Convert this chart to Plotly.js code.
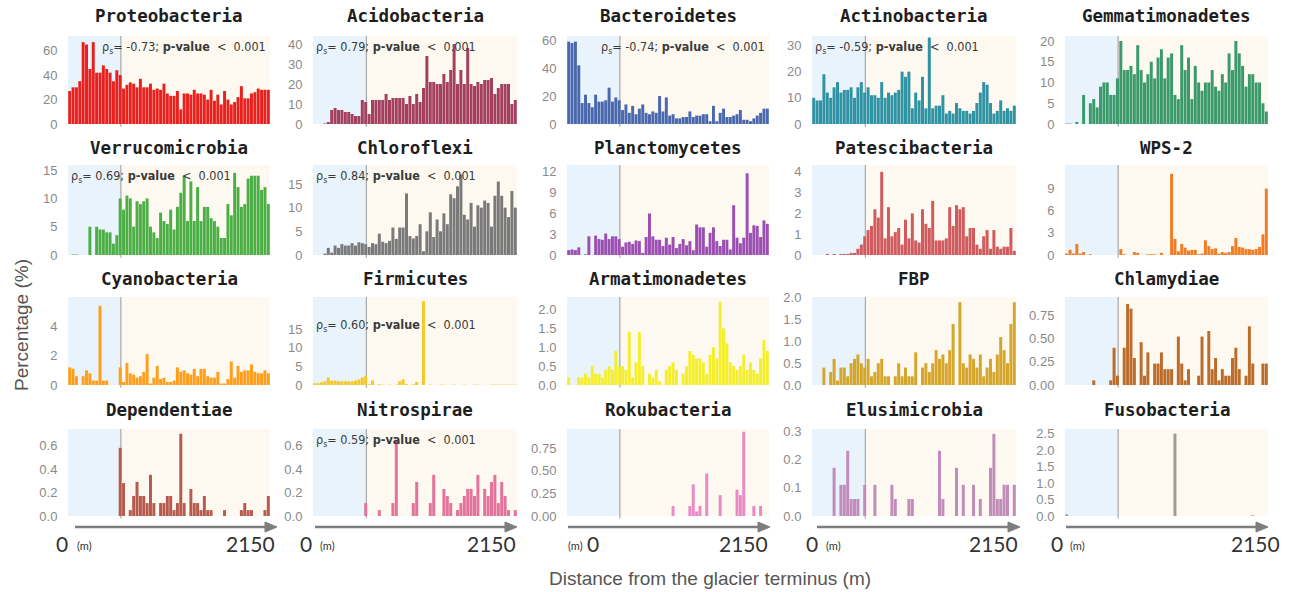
<!DOCTYPE html>
<html><head><meta charset="utf-8">
<script src="https://cdn.plot.ly/plotly-3.0.1.min.js"></script>
<style>html,body{margin:0;padding:0;background:#fff}#chart{width:1297px;height:592px}</style>
</head><body><div id="chart"></div>
<script>
// ---- data: relative abundance (%) per sample, samples ordered by distance from the glacier terminus ----
const phyla = ["Proteobacteria","Acidobacteria","Bacteroidetes","Actinobacteria","Gemmatimonadetes",
  "Verrucomicrobia","Chloroflexi","Planctomycetes","Patescibacteria","WPS-2",
  "Cyanobacteria","Firmicutes","Armatimonadetes","FBP","Chlamydiae",
  "Dependentiae","Nitrospirae","Rokubacteria","Elusimicrobia","Fusobacteria"];

const proteobacteria = [27,30,30,35,67,65,45,67,42,42,48,45,42,35,44,40, 29,32,34,33,30,37,30,30,33,28, 29,28,33,25,23,23,27,12,25,25, 24,28,25,25,24,20,28,19,24,16, 27,20,16,18,22,31,21,21,25,26, 29,28,28,28];
const acidobacteria = [0,0,0,0.3,1,7,8,7,7,6,6,5,4,4,12,11, 5,12,12,12,12,15,12,13,13,13, 13,10,14,10,15,11,18,34,21,21, 20,20,25,21,27,40,20,27,20,38, 20,19,21,20,22,22,23,15,18,20, 20,20,10,12];
const bacteroidetes = [59,58,59,42,15,21,15,12,21,16,16,17,26,16,19,17, 10,14,8,13,7,11,14,8,7,9, 8,20,9,19,6,7,4,4,5,5, 9,5,6,6,7,7,2,13,2,8, 11,5,5,6,7,10,3,3,2,4, 6,8,11,11];
const actinobacteria = [10,9,9,19,12,10,14,16,12,13,13,14,10,14,16,12, 14,11,11,10,16,10,12,11,12,13, 20,18,20,6,12,9,18,6,33, 6,7,7,11,4,5,4,8,6,5, 5,4,5,8,12,16, 15,8,4,5,9,5,6,5,7];
const gemmatimonadetes = [0.1,0.1,0,0.5,0,7,0,5,6,4,9,10,10,7,7,11, 20,13,13,14,12,19,13,10,12,15, 11,16,18,11,16,17,7,6,19,13, 16,6,14,10,8,10,10,13,9,8, 12,10,17,13,20,17,14,9,12,12, 10,10,5,3];
const verrucomicrobia = [0,0.1,0.1,0,0,0,5,0,5,4.5, 4.5,4,4,2,3.5,10, 8,10.5,10,5, 9.5,9,9.5,10,5,4,3,7.5,6,5.5, 8,4.5,8.5,11,14,6,13,6,12,6, 8.5,8.5,6.5,6,5,3,3,9,7,14.5, 12,8.5,9,13.5,14,14,14,11.5,12,9];
const chloroflexi = [0,0,0,0.3,1.5,0.5,2,1.5,2.3,2,2,2.5,2,2.7,2.5,2.3, 1.7,2.5,2.3,4.5,2.8,2.5,3,5.8,3.4,5.8, 5.8,13,4,3.5,4,6.5,0.8,5,9,3.8, 7.5,5,8.8,6.5,12.8,12,14.5,17,8.5,7.5, 11,6,10.5,10,11.5,11,6,12.5,15.5,12.5, 10,8,13.5,10];
const planctomycetes = [0.7,0.8,0.7,1.1,0,0.1,2.7,0,2.8,2.3,2.2,3.1,2.3,2.7,2.7,2.3, 1.2,1.8,1.9,1.6,2.1,2,0.3,2.6,6,2.7, 2.2,2.2,1.3,2.5,1.5,2.6,1,1.6,2.3,1.4, 2,0.7,4.4,4,4,1.2,3.2,4,2,1.3, 2.2,2.2,0.8,7.2,2.5,1.7,2.5,11.8,3.2,4.3, 4.2,2.6,5,4.5];
const patescibacteria = [0,0,0,0,0.05,0,0.05,0,0.05,0.05,0.05,0.1,0.1,0.3,0.5,0.9, 1.2,1.4,2.2,1.8,4,0.8,2.3,0.9,1.1,1.3, 0.5,1.7,0.8,2,0.7,0.6,2.2,1.5,1.3,2.6, 0.7,0.7,0.7,0.8,2.3,1.4,2.4,2.2,2.3,0.9, 1.3,1.3,0.5,0.3,0.9,1.2,0.3,1.2,0.4,0.3, 0.4,0.4,1.3,0.2];
const wps2 = [0.2,0.7,0.2,1.5,0.2,0.4,0,0.1,0,0,0,0,0,0,0,0, 0.8,0.1,0,0,0.4,0.3,0,0,0.1,0.1, 0.1,0,0.3,0,0,11, 2.2,0.5,1.5,1,0.6,0.7,0.7,0.1,0.2,2, 1.2,0.8,0.9,0.2,0.4,0.3,0.4,1.2,2.3,1.1, 1,0.8,0.8,0.7,0.8,1.1,2.8,9];
const cyanobacteria = [1.2,1.1,0.6,0,0.6,1,0.8,0.3,0.3,5.4,0.3,0.3,0,0,0,1.2, 0.2,1.5,0.8,0.7,0.5,0.6,0.9,2.1,0.1,0.5, 1.3,0.4,0.5,0.2,0.2,0.3,1.2,0.9,1,0.8, 0.7,1.1,0.6,1.1,1.1,0.6,0.5,0.5,0.9,0.1, 0.1,0.4,1.6,0.5,1.3,0.9,1,1,1.4,0.9, 0.8,0.8,1,0.8];
const firmicutes = [0.5,0.5,0.7,1,2,1.2,1.2,1,1,1,1,1,1.2,1.5,2,2.5, 0.2,1.2,0,0.2,0.1,0,0.1,0,0.1,1, 1.5,0.2,0,0.2,0.8,0,22.5, 0,0.1,0,0,0.1,0.1,0,0,0.1,0, 0,0.1,0,0,0.1,0.1,0,0,0,0.1, 0.1,0.1,0.1,0.1,0.1,0.1,0.1];
const armatimonadetes = [0.2,0,0,0.2,0.2,0.3,0.2,0.5,0.3,0.3,0.2,0.4,0.5,0.4,0.9,0.5, 0.5,0.4,1.4,0.2,0.6,1.4,0.5,0,0.3,0.2, 0.4,0.1,0,0.4,0.5,0.6,0.4,0,0.3,0.5, 0.9,0.8,0.7,0.7,0.6,0.3,0.8,1,0.7,2.2, 1.5,1.1,0.6,0.5,0.4,0.5,0.8,0.4,0.6,0.4, 0.3,0.7,1.2,0.9];
const fbp = [0,0,0,0.4,0,0.3,0.6,0.1,0.4,0.4,0.2,0.5,0.6,0.7,0.5,0.4, 0.6,0.2,0.3,0.5,0.6,0.2,0.2,0,0.2,0.5, 0.2,0.4,0.2,0.2,0.75,0,0.4,0.5,0.3,0.5, 0.8,0.6,0.7,0.5,0.8,1.4,0,1.9,0.5,0.4, 0.7,0.6,0.4,0.7,0.2,0.4,0.6,0.3,0.7,1.1, 0.8,0.5,1.4,1.9];
const chlamydiae = [0,0,0,0,0,0,0,0,0.05,0, 0,0,0,0.05,0.4,0.1,0,0.4,0.87,0.82, 0.29,0,0.46,0.1,0.35,0,0.23,0.23,0.35,0.17, 0.17,0.17,0,0.52,0.23,0.05,0.17,0,0,0.1, 0.52,0,0.58,0.17,0.29,0.05,0.17,0.1,0.1,0.29, 0.4,0.17,0,0.1,0.63,0.23,0,0,0.23,0.23];
const dependentiae = [0,0,0,0,0,0,0,0,0,0, 0,0,0,0,0,0.58, 0.28,0,0.05,0.17, 0.29,0.17,0.17,0.11,0.35,0.11,0,0.11,0.11,0.17, 0.17,0.05,0.11,0.7,0.11,0,0.23,0.11,0.11,0.05, 0.17,0.05,0.05,0,0,0,0.05,0,0,0, 0,0.05,0.11,0.05,0.05,0,0,0,0.05,0.17];
const nitrospirae = [0,0,0,0,0,0,0,0,0,0, 0,0,0,0,0,0.11,0,0,0,0.05, 0,0,0,0.11,0.65,0,0,0,0,0.11, 0.29,0,0,0,0.11,0.35,0,0,0.23,0.17, 0.11,0,0.05,0.11,0.17,0.23,0.23,0.17,0.35,0, 0.23,0.17,0.29,0.35,0.11,0.29,0.17,0.05,0,0.05];
const rokubacteria = [0,0,0,0,0,0,0,0,0,0, 0,0,0,0,0,0,0,0,0,0, 0,0,0,0,0,0,0,0,0,0, 0,0.11,0,0,0,0,0.11,0.35,0.05,0.11, 0,0.47,0,0,0,0.23,0,0,0,0, 0.29,0.23,0.93,0,0,0.11,0,0.11,0,0];
const elusimicrobia = [0,0,0,0,0,0,0.17,0,0.11,0.11, 0.23,0.06,0.06,0.06,0,0.11,0,0,0.11,0, 0,0,0,0.11,0.06,0,0,0,0.06,0.06, 0,0,0,0,0,0,0,0.23,0.06,0, 0,0,0.17,0,0.11,0,0,0.11,0,0.06, 0,0,0.17,0.29,0.06,0.06,0.11,0.11,0,0.11];
const fusobacteria = [0.05,0,0,0,0,0,0,0,0,0, 0,0,0,0,0,0,0,0,0,0, 0,0,0,0,0,0,0,0,0,0, 0,0,2.5,0,0,0,0,0,0,0, 0,0,0,0,0,0,0,0,0,0, 0,0,0,0,0,0.02,0,0,0,0];

const seriesValues = [proteobacteria,acidobacteria,bacteroidetes,actinobacteria,gemmatimonadetes,
  verrucomicrobia,chloroflexi,planctomycetes,patescibacteria,wps2,
  cyanobacteria,firmicutes,armatimonadetes,fbp,chlamydiae,
  dependentiae,nitrospirae,rokubacteria,elusimicrobia,fusobacteria];

const barColors = ["#e8211e","#a3405f","#4a68ad","#2f93a3","#3a9a6a",
  "#4caf45","#7a7a7a","#9b4fb2","#cf5b5e","#f07d26",
  "#ff9e1b","#f5c829","#f5ee2d","#d4a72c","#bb6c2b",
  "#b55a4c","#e3739a","#e98ac6","#c18cba","#a39b92"];

const yMax = [72,44,63,33.6,21.2, 15.9,19,13,4.33,12.2, 6.0,23.6,2.33,2.02,0.945, 0.74,0.74,0.96,0.307,2.64];
const yTickVals = [[0,20,40,60],[0,10,20,30,40],[0,20,40,60],[0,10,20,30],[0,5,10,15,20],
  [0,5,10,15],[0,5,10,15],[0,3,6,9,12],[0,1,2,3,4],[0,3,6,9],
  [0,2,4],[0,5,10,15],[0,0.5,1,1.5,2],[0,0.5,1,1.5,2],[0,0.25,0.5,0.75],
  [0,0.2,0.4,0.6],[0,0.2,0.4,0.6],[0,0.25,0.5,0.75],[0,0.1,0.2,0.3],[0,0.5,1,1.5,2,2.5]];
const yTickText = [["0","20","40","60"],["0","10","20","30","40"],["0","20","40","60"],["0","10","20","30"],["0","5","10","15","20"],
  ["0","5","10","15"],["0","5","10","15"],["0","3","6","9","12"],["0","1","2","3","4"],["0","3","6","9"],
  ["0","2","4"],["0","5","10","15"],["0.0","0.5","1.0","1.5","2.0"],["0.0","0.5","1.0","1.5","2.0"],["0.00","0.25","0.50","0.75"],
  ["0.0","0.2","0.4","0.6"],["0.0","0.2","0.4","0.6"],["0.00","0.25","0.50","0.75"],["0.0","0.1","0.2","0.3"],["0.0","0.5","1.0","1.5","2.0","2.5"]];

// Spearman correlation labels: [panel index, rho, side]
const spearman = [[0,"-0.73","right"],[1,"0.79","left"],[2,"-0.74","right"],[3,"-0.59","left"],
  [5,"0.69","left"],[6,"0.84","left"],[11,"0.60","left"],[16,"0.59","left"]];

const nSamples = 60;
const samples = Array.from({length:nSamples},(_,i)=>i+1);
const boundary = 16.2; // forefield zone limit (sample position)

// ---- layout geometry (pixels) ----
const W = 1297, H = 592;
const colPx = [[68,270],[313,517],[567,769],[812,1016],[1065,1268]];
const rowPx = [[36,124],[165,255],[297,385],[429,516]];
const titleY = [16,148,279,410];

const traces = [], shapes = [], annotations = [];
const layout = {
  width: W, height: H, margin:{l:0,r:0,t:0,b:0},
  paper_bgcolor:"#ffffff", plot_bgcolor:"rgba(0,0,0,0)",
  showlegend:false, bargap:0.12
};

seriesValues.forEach((vals,k)=>{
  const r = Math.floor(k/5), c = k%5;
  const s = k===0 ? "" : String(k+1);
  traces.push({type:"bar", x:samples, y:vals, xaxis:"x"+s, yaxis:"y"+s,
    marker:{color:barColors[k], line:{width:0}}, hoverinfo:"y"});
  layout["xaxis"+s] = {domain:[colPx[c][0]/W, colPx[c][1]/W], range:[0.5,nSamples+0.5],
    showticklabels:false, showgrid:false, zeroline:false, showline:false, ticks:"", anchor:"y"+s, fixedrange:true};
  layout["yaxis"+s] = {domain:[1-rowPx[r][1]/H, 1-rowPx[r][0]/H], range:[0,yMax[k]],
    tickmode:"array", tickvals:yTickVals[k], ticktext:yTickText[k],
    showgrid:false, zeroline:false, showline:false, ticks:"outside", ticklen:7, tickcolor:"rgba(0,0,0,0)",
    tickfont:{family:"Liberation Sans, Arial, sans-serif", size:13, color:"#8a8a8a"}, anchor:"x"+s, fixedrange:true};
  shapes.push({type:"rect", xref:"x"+s, yref:"y"+s+" domain", x0:0.5, x1:boundary, y0:0, y1:1,
    fillcolor:"#e9f3fc", line:{width:0}, layer:"below"});
  shapes.push({type:"rect", xref:"x"+s, yref:"y"+s+" domain", x0:boundary, x1:nSamples+0.5, y0:0, y1:1,
    fillcolor:"#fdf8f0", line:{width:0}, layer:"below"});
  shapes.push({type:"line", xref:"x"+s, yref:"y"+s+" domain", x0:boundary, x1:boundary, y0:-0.03, y1:1,
    line:{color:"#a8a8a8", width:1.2}, layer:"below"});
  annotations.push({xref:"paper", yref:"paper", x:(colPx[c][0]+colPx[c][1])/2/W, y:1-titleY[r]/H,
    xanchor:"center", yanchor:"middle", showarrow:false, text:"<b>"+phyla[k]+"</b>",
    font:{family:"DejaVu Sans Mono, monospace", size:17.5, color:"#1e1e1e"}});
});

spearman.forEach(([k,rho,side])=>{
  const s = k===0 ? "" : String(k+1);
  annotations.push({xref:"x"+s+" domain", yref:"y"+s+" domain", x: side==="left"?0:1, y:1,
    xanchor:side, yanchor:"top", yshift: k===11 ? -18 : -1, xshift: side==="left"?1:-2, showarrow:false,
    text:"ρ<sub>s</sub>= "+rho+"; <b>p-value</b>  <  0.001",
    font:{family:"DejaVu Sans Condensed, Liberation Sans Narrow, sans-serif", size:12.5, color:"#3a3a3a"}});
});

// bottom distance arrows (drawn as shapes in paper coordinates)
const arrowPx = [[75,277],[315,517],[568,770],[817,1020],[1066,1268]];
const arrowY = 527;
arrowPx.forEach(([a,b])=>{
  const yy = 1-arrowY/H, hh = 5/H;
  shapes.push({type:"line", xref:"paper", yref:"paper", x0:a/W, x1:(b-9)/W, y0:yy, y1:yy,
    line:{color:"#7d7d7d", width:2.6}});
  shapes.push({type:"path", xref:"paper", yref:"paper",
    path:`M ${(b-12)/W} ${yy+hh} L ${b/W} ${yy} L ${(b-12)/W} ${yy-hh} Z`,
    fillcolor:"#7d7d7d", line:{color:"#7d7d7d", width:1}});
});
const zeroX = [62,306,593,812,1057];
const mX = [84,327,575,833,1077];
const endX = [277,518,770,1020,1282];
const labY = 1-543/H;
for (let c=0;c<5;c++){
  annotations.push({xref:"paper", yref:"paper", x:zeroX[c]/W, y:labY, xanchor:"center", yanchor:"middle",
    showarrow:false, text:"0", font:{family:"Lato, Open Sans, sans-serif", size:21, color:"#333"}});
  annotations.push({xref:"paper", yref:"paper", x:mX[c]/W, y:labY-0.004, xanchor:"center", yanchor:"middle",
    showarrow:false, text:"(m)", font:{family:"Lato, Open Sans, sans-serif", size:11, color:"#333"}});
  annotations.push({xref:"paper", yref:"paper", x:endX[c]/W, y:labY, xanchor:"right", yanchor:"middle",
    showarrow:false, text:"2150", font:{family:"Lato, Open Sans, sans-serif", size:21, color:"#333"}});
}

annotations.push({xref:"paper", yref:"paper", x:21/W, y:1-325/H, textangle:-90, showarrow:false,
  xanchor:"center", yanchor:"middle", text:"Percentage (%)",
  font:{family:"Liberation Sans, Arial, sans-serif", size:19, color:"#555"}});
annotations.push({xref:"paper", yref:"paper", x:710/W, y:1-578/H, showarrow:false,
  xanchor:"center", yanchor:"middle", text:"Distance from the glacier terminus (m)",
  font:{family:"Liberation Sans, Arial, sans-serif", size:19, color:"#555"}});

layout.shapes = shapes;
layout.annotations = annotations;
Plotly.newPlot("chart", traces, layout, {displayModeBar:false, staticPlot:true});
</script>
</body></html>
